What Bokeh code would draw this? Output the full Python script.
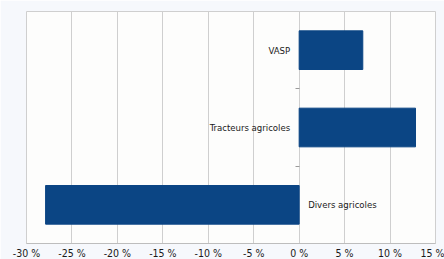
from bokeh.plotting import figure
from bokeh.models import FixedTicker, ColumnDataSource
from bokeh.core.properties import value
from bokeh.embed import file_html
from bokeh.resources import INLINE

categories = ["Divers agricoles", "Tracteurs agricoles", "VASP"]
values = [-27.9, 12.8, 7.0]
x_ticks = [-30, -25, -20, -15, -10, -5, 0, 5, 10, 15]
x_tick_labels = ["-30 %", "-25 %", "-20 %", "-15 %", "-10 %", "-5 %", "0 %", "5 %", "10 %", "15 %"]

FONT = "DejaVu Sans Condensed"
TXT = "#1a1a1a"
GRID = "#cfcfcf"

ypos = list(range(len(categories)))
src = ColumnDataSource(dict(
    y=ypos,
    v=values,
    cat=categories,
    lx=[0 for _ in values],
    align=["left" if v < 0 else "right" for v in values],
    xoff=[9 if v < 0 else -9 for v in values],
))

p = figure(frame_width=409, frame_height=232, output_backend="svg", toolbar_location=None,
           x_range=(-30, 15), y_range=(-0.5, len(categories) - 0.5),
           min_border_left=26, min_border_right=9, min_border_top=11, min_border_bottom=16)

p.background_fill_color = "#fdfdfc"
p.border_fill_color = "#f6f8fc"
p.outline_line_color = GRID
p.outline_line_width = 1

p.hbar(y="y", height=0.5, left=0, right="v", source=src,
       fill_color="#0b4584", line_color="#0b4584")

p.text(x="lx", y="y", text="cat", source=src, text_align="align",
       x_offset="xoff", text_baseline="middle",
       text_font=value(FONT), text_font_size="9.5px", text_color=TXT)

# x axis
p.xaxis.ticker = FixedTicker(ticks=x_ticks)
p.xaxis.major_label_overrides = {t: l for t, l in zip(x_ticks, x_tick_labels)}
p.xaxis.major_label_text_font = FONT
p.xaxis.major_label_text_font_size = "10.5px"
p.xaxis.major_label_text_color = TXT
p.xaxis.major_tick_in = 0
p.xaxis.major_tick_out = 0
p.xaxis.minor_tick_in = 0
p.xaxis.minor_tick_out = 0
p.xaxis.major_tick_line_color = None
p.xaxis.minor_tick_line_color = None
p.xaxis.axis_line_color = "#bdbdbd"
p.xaxis.major_label_standoff = 3

p.xgrid.ticker = FixedTicker(ticks=x_ticks)
p.xgrid.grid_line_color = GRID
p.ygrid.grid_line_color = None

# y axis at x = 0 with ticks between categories
p.yaxis.fixed_location = 0
p.yaxis.ticker = FixedTicker(ticks=[0.5, 1.5])
p.yaxis.major_label_overrides = {0.5: "", 1.5: ""}
p.yaxis.major_label_text_font_size = "1px"
p.yaxis.major_tick_in = 0
p.yaxis.major_tick_out = 4
p.yaxis.major_tick_line_color = "#9a9a9a"
p.yaxis.minor_tick_line_color = None
p.yaxis.axis_line_color = None
p.yaxis.major_label_standoff = 0

open("out.html", "w").write(file_html(p, INLINE))
